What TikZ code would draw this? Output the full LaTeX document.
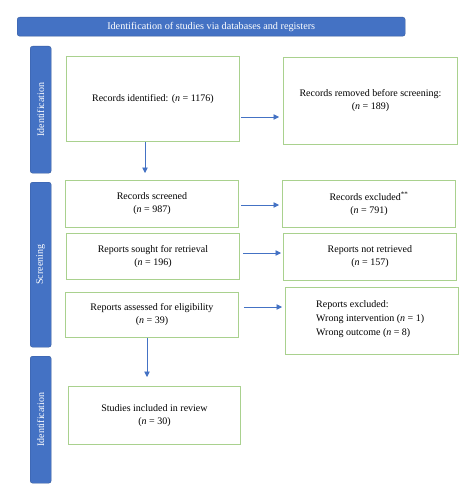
\documentclass[tikz,border=0pt]{standalone}
\usepackage{fontspec}
\setmainfont{Liberation Serif}
\usetikzlibrary{arrows.meta}
\definecolor{bandblue}{HTML}{4472C4}
\definecolor{boxgreen}{HTML}{A9D18E}
\definecolor{arrblue}{HTML}{4472C4}
\tikzset{
  box/.style={draw=boxgreen, line width=0.9pt, fill=white, anchor=north west, inner sep=0pt,
    align=center, font=\fontsize{10}{13}\selectfont},
  band/.style={fill=bandblue, draw=bandblue!80!black, line width=0.4pt, rounded corners=2.5pt, anchor=north west, inner sep=0pt},
  bandtext/.style={text=white, font=\fontsize{10}{12}\selectfont},
  arr/.style={draw=arrblue, line width=0.7pt, -{Triangle[length=5.5pt,width=5.5pt]}},
}
\begin{document}
\begin{tikzpicture}[x=1pt,y=-1pt]
\useasboundingbox (0,0) rectangle (475,500);
% banner
\node[band, minimum width=388pt, minimum height=19pt] (ban) at (17,17) {};
\node[bandtext, font=\fontsize{10.2}{12}\selectfont] (bant) at (ban.center) {Identification of studies via databases and registers};
% side bands
\node[band, minimum width=21pt, minimum height=127pt] (s1) at (30,46) {};
\node[bandtext, rotate=90] (s1t) at (s1.center) {Identification};
\node[band, minimum width=21pt, minimum height=165pt] (s2) at (30,182) {};
\node[bandtext, rotate=90] (s2t) at (s2.center) {Screening};
\node[band, minimum width=21pt, minimum height=127pt] (s3) at (30,356) {};
\node[bandtext, rotate=90] (s3t) at (s3.center) {Identification};
% boxes
\node[box, minimum width=173pt, minimum height=85pt] (b1) at (66,56) {Records identified: (\textit{n} = 1176)};
\node[box, minimum width=174pt, minimum height=87pt] (b2) at (283,57) {Records removed before screening:\\(\textit{n} = 189)};
\node[box, minimum width=173pt, minimum height=47pt] (b3) at (65,180) {Records screened\\(\textit{n} = 987)};
\node[box, minimum width=173pt, minimum height=47pt] (b4) at (282,180) {Records excluded\textsuperscript{**}\\(\textit{n} = 791)};
\node[box, minimum width=173pt, minimum height=46pt] (b5) at (66,233) {Reports sought for retrieval\\(\textit{n} = 196)};
\node[box, minimum width=173pt, minimum height=47pt] (b6) at (283,233) {Reports not retrieved\\(\textit{n} = 157)};
\node[box, minimum width=173pt, minimum height=45pt] (b7) at (65,292) {Reports assessed for eligibility\\(\textit{n} = 39)};
\node[box, minimum width=173pt, minimum height=67pt] (b8) at (285,287) {};
\node[anchor=north west, inner sep=0pt, align=left, font=\fontsize{10}{14}\selectfont] (b8t) at ([xshift=31pt,yshift=-13pt]b8.north west)
  {Reports excluded:\\Wrong intervention (\textit{n} = 1)\\Wrong outcome (\textit{n} = 8)};
\node[box, minimum width=172pt, minimum height=58pt] (b9) at (68,386) {Studies included in review\\(\textit{n} = 30)};
% arrows
\draw[arr] ([xshift=1pt]b1.east |- 0,117) -- ([xshift=-4pt]b2.west |- 0,117);
\draw[arr] (b1.south -| 145,0) -- ([yshift=7pt]b3.north -| 145,0);
\draw[arr] ([xshift=2pt]b3.east |- 0,205) -- ([xshift=-3pt]b4.west |- 0,205);
\draw[arr] ([xshift=3pt]b5.east |- 0,253) -- ([xshift=-2pt]b6.west |- 0,253);
\draw[arr] ([xshift=5pt]b7.east |- 0,307) -- ([xshift=-3pt]b8.west |- 0,307);
\draw[arr] (b7.south -| 147,0) -- ([yshift=9pt]b9.north -| 147,0);
\end{tikzpicture}
\end{document}
